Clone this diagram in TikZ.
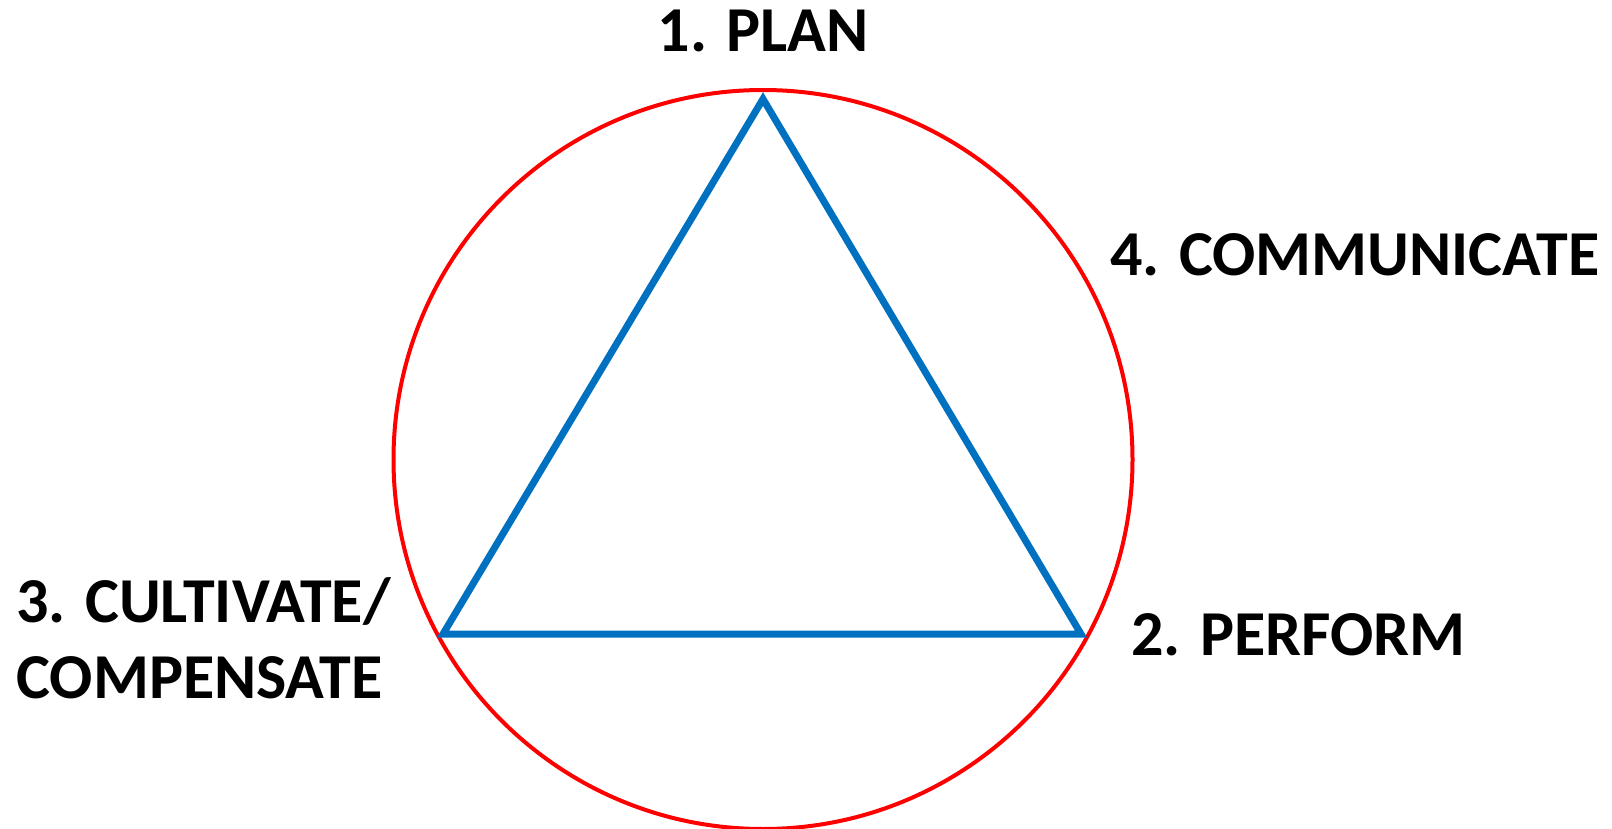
\documentclass[tikz,border=0pt]{standalone}
\usepackage{fontspec}
\setmainfont{Carlito}
\definecolor{ringred}{HTML}{FF0000}
\definecolor{triblue}{HTML}{0070C0}
\tikzset{
  steplabel/.style={font=\fontsize{32}{38}\selectfont\bfseries, inner sep=0pt, align=left},
  ring/.style={draw=ringred, line width=2pt},
  tri/.style={draw=triblue, line width=3.5pt, line join=miter}
}
\begin{document}
\begin{tikzpicture}[x=0.5pt, y=-0.5pt]
  \useasboundingbox (0,0) rectangle (1612,829);

  % Outer circle
  \node[ring, circle, minimum size=369.5pt, inner sep=0pt] (cyc) at (763,459.5) {};

  % Triangle corners
  \coordinate (plan) at (763,99);
  \coordinate (perf) at (1081,634);
  \coordinate (cult) at (443,634);
  \draw[tri] (plan) -- (perf) -- (cult) -- cycle;

  % Labels
  \node[steplabel, anchor=base] (lplan) at (763,52) {1. PLAN};
  \node[steplabel, anchor=base west] (lcomm) at (1110,275) {4. COMMUNICATE};
  \node[steplabel, anchor=base west] (lperf) at (1131,655) {2. PERFORM};
  \node[steplabel, anchor=base west] (lcult) at (16,698) {3. CULTIVATE/\\COMPENSATE};
\end{tikzpicture}
\end{document}
